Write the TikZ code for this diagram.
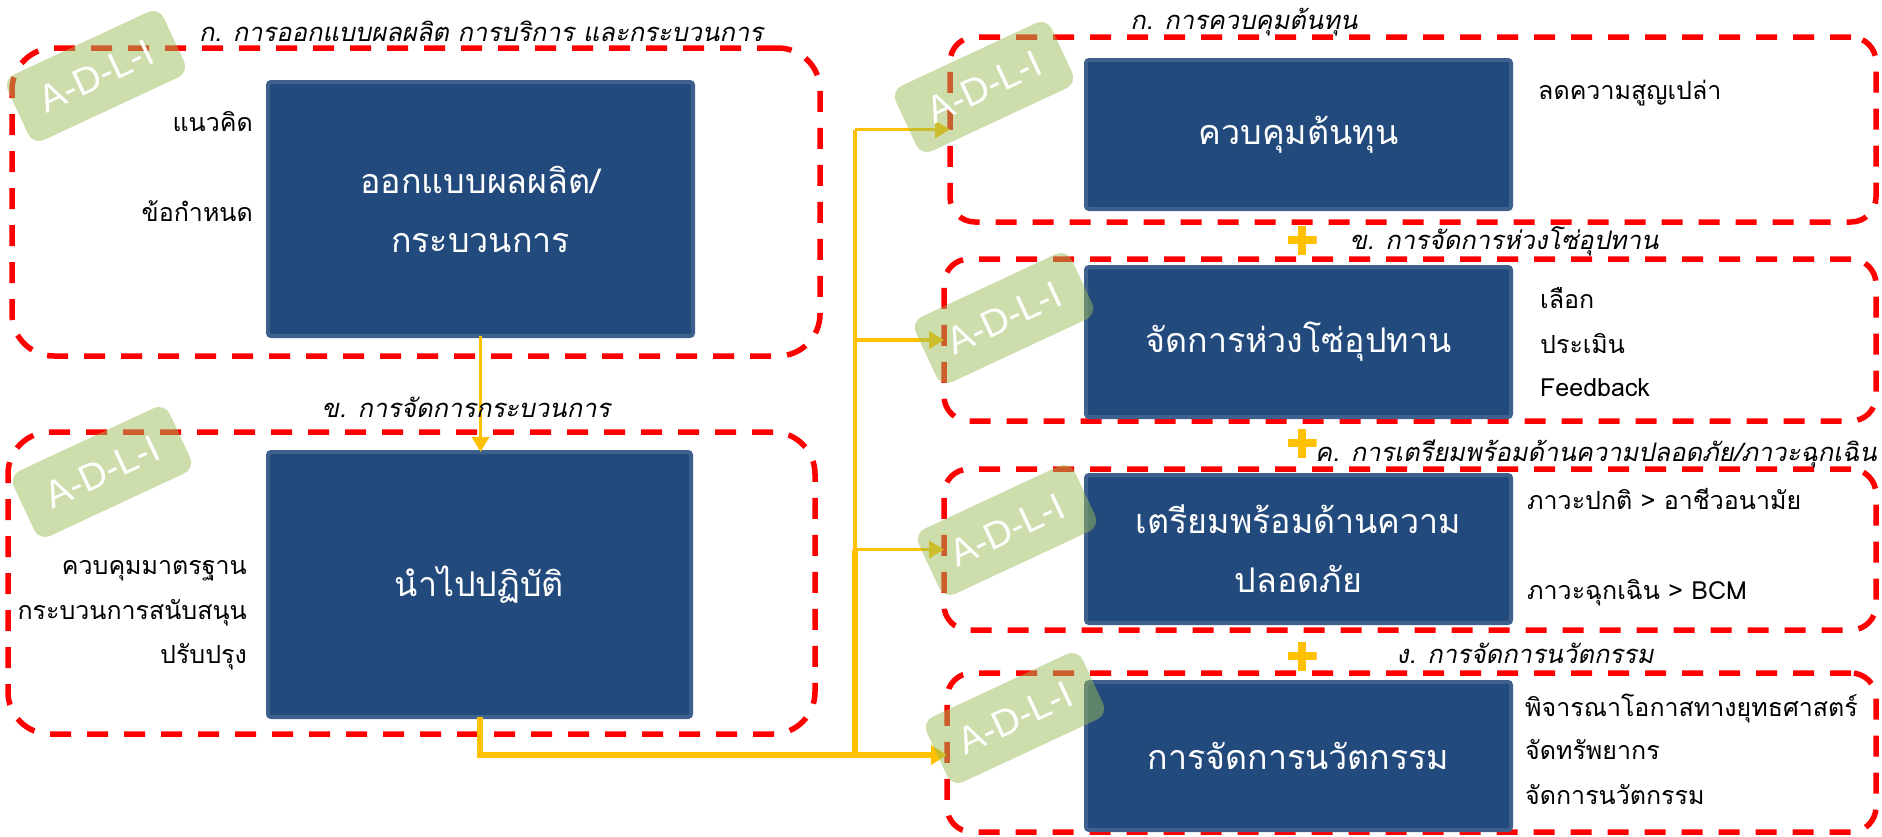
\documentclass[tikz,border=0pt]{standalone}
\usepackage{fontspec}
\usetikzlibrary{arrows.meta}
\newfontfamily\thai[Script=Thai]{Loma}
\newfontfamily\thaiit[Script=Thai,FakeSlant=0.2]{Loma}
\newfontfamily\tagfont{Liberation Sans}
\definecolor{redc}{RGB}{255,0,0}
\definecolor{yellowc}{RGB}{255,192,0}
\definecolor{bluef}{RGB}{34,74,124}
\definecolor{bluee}{RGB}{62,96,141}
\definecolor{tagc}{RGB}{155,187,89}
\begin{document}
\begin{tikzpicture}[x=1pt,y=-1pt,
  dashbox/.style={draw=redc, line width=5.5pt, dash pattern=on 21pt off 16pt, rounded corners=#1, inner sep=0pt, outer sep=0pt},
  bluebox/.style={fill=bluef, draw=bluee, line width=4pt, rounded corners=3pt, inner sep=0pt, outer sep=0pt, text=white, font=\thai\fontsize{34}{59}\selectfont, align=center},
  titletext/.style={font=\thaiit\fontsize{25.5}{30}\selectfont, inner sep=0pt, text height=17pt, text depth=4pt},
  sidetext/.style={font=\thai\fontsize{25}{30}\selectfont, inner sep=0pt, text height=17pt, text depth=4pt},
  tagbox/.style={fill=tagc, fill opacity=0.5, text opacity=1, text=white, rounded corners=12pt, minimum width=172pt, minimum height=72pt, rotate=25, font=\tagfont\fontsize{38}{42}\selectfont, inner sep=0pt},
  flowthin/.style={draw=yellowc, line width=3.5pt},
  flowthick/.style={draw=yellowc, line width=6pt},
  tipthin/.style={-{Triangle[length=15pt,width=17pt]}},
  plussign/.style={minimum size=29pt, inner sep=0pt, path picture={\fill[yellowc] ([xshift=-4pt]path picture bounding box.south) rectangle ([xshift=4pt]path picture bounding box.north); \fill[yellowc] ([yshift=-4pt]path picture bounding box.west) rectangle ([yshift=4pt]path picture bounding box.east);}}
]
\useasboundingbox (0,0) rectangle (1882,836);

% dashed group frames
\node[dashbox=42pt, minimum width=808pt, minimum height=308pt] (A) at (416,202) {};
\node[dashbox=42pt, minimum width=807pt, minimum height=302pt] (B) at (411.5,583) {};
\node[dashbox=25pt, minimum width=926pt, minimum height=185pt] (C) at (1413,129.5) {};
\node[dashbox=25pt, minimum width=932pt, minimum height=162pt] (D) at (1410,340) {};
\node[dashbox=25pt, minimum width=932pt, minimum height=161pt] (E) at (1410,549.5) {};
\node[dashbox=25pt, minimum width=929pt, minimum height=159pt] (F) at (1411.5,752.5) {};

% blue boxes
\node[bluebox, minimum width=425pt, minimum height=254pt] (A1) at (480.5,209) {ออกแบบผลผลิต/\\กระบวนการ};
\node[bluebox, minimum width=423pt, minimum height=265pt] (B1) at (479.5,584.5) {นำไปปฏิบัติ};
\node[bluebox, minimum width=425pt, minimum height=149pt] (C1) at (1298.5,134.5) {ควบคุมต้นทุน};
\node[bluebox, minimum width=425pt, minimum height=150pt] (D1) at (1298.5,342) {จัดการห่วงโซ่อุปทาน};
\node[bluebox, minimum width=425pt, minimum height=148pt] (E1) at (1298.5,549) {เตรียมพร้อมด้านความ\\ปลอดภัย};
\node[bluebox, minimum width=425pt, minimum height=148pt] (F1) at (1298.5,756) {การจัดการนวัตกรรม};

% connectors
\coordinate (j) at (855,755);
\draw[flowthin, tipthin] (A1.south) -- (A1.south |- B1.north);
\draw[flowthick] (B1.south) |- (j);
\draw[flowthin] (j |- C.west) -- (j |- E.west);
\draw[flowthick] (j |- E.west) -- (j);
\draw[flowthin, tipthin] (j |- C.west) -- (C.west);
\draw[flowthin, tipthin] (j |- D.west) -- (D.west);
\draw[flowthin, tipthin] (j |- E.west) -- (E.west);
\draw[flowthick, -{Triangle[length=16pt,width=19pt]}] (j) -- (j -| F.west);

% titles
\node[titletext] (tA) at (481,35) {ก. การออกแบบผลผลิต การบริการ และกระบวนการ};
\node[titletext] (tB) at (466,411) {ข. การจัดการกระบวนการ};
\node[titletext] (tC) at (1244,23) {ก. การควบคุมต้นทุน};
\node[titletext] (tD) at (1504,243) {ข. การจัดการห่วงโซ่อุปทาน};
\node[titletext] (tE) at (1596,455) {ค. การเตรียมพร้อมด้านความปลอดภัย/ภาวะฉุกเฉิน};
\node[titletext] (tF) at (1525,657) {ง. การจัดการนวัตกรรม};

% side labels
\node[sidetext, anchor=east] (l1) at (253,125) {แนวคิด};
\node[sidetext, anchor=east] (l2) at (253,215) {ข้อกำหนด};
\node[sidetext, anchor=east] (l3) at (247,568) {ควบคุมมาตรฐาน};
\node[sidetext, anchor=east] (l4) at (247,613) {กระบวนการสนับสนุน};
\node[sidetext, anchor=east] (l5) at (247,657) {ปรับปรุง};
\node[sidetext, anchor=west] (r1) at (1538,93) {ลดความสูญเปล่า};
\node[sidetext, anchor=west] (r2) at (1540,302) {เลือก};
\node[sidetext, anchor=west] (r3) at (1540,347) {ประเมิน};
\node[sidetext, anchor=west] (r4) at (1540,390) {Feedback};
\node[sidetext, anchor=west] (r5) at (1527,503) {ภาวะปกติ > อาชีวอนามัย};
\node[sidetext, anchor=west] (r6) at (1527,593) {ภาวะฉุกเฉิน > BCM};
\node[sidetext, anchor=west] (r7) at (1525,710) {พิจารณาโอกาสทางยุทธศาสตร์};
\node[sidetext, anchor=west] (r8) at (1525,753) {จัดทรัพยากร};
\node[sidetext, anchor=west] (r9) at (1525,798) {จัดการนวัตกรรม};

% A-D-L-I tags
\node[tagbox] (g1) at (96,76) {A-D-L-I};
\node[tagbox] (g2) at (102,472) {A-D-L-I};
\node[tagbox] (g3) at (984,87) {A-D-L-I};
\node[tagbox] (g4) at (1004,318) {A-D-L-I};
\node[tagbox] (g5) at (1007,530) {A-D-L-I};
\node[tagbox] (g6) at (1015,718) {A-D-L-I};

% plus signs
\node[plussign] (p1) at (1302,240) {};
\node[plussign] (p2) at (1302,443) {};
\node[plussign] (p3) at (1302,656) {};
\end{tikzpicture}
\end{document}
